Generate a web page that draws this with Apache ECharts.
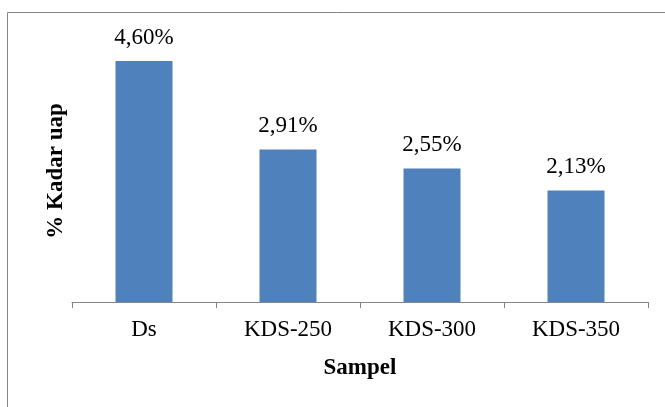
<!DOCTYPE html>
<html><head><meta charset="utf-8">
<script src="https://cdn.jsdelivr.net/npm/echarts@6/dist/echarts.min.js"></script>
<style>html,body{margin:0;padding:0;background:#fff}#c{width:665px;height:407px}</style>
</head><body><div id="c"></div>
<script>
const categories = ["Ds", "KDS-250", "KDS-300", "KDS-350"];
const values = [4.60, 2.91, 2.55, 2.13];
const labels = ["4,60%", "2,91%", "2,55%", "2,13%"];
const xTitle = "Sampel";
const yTitle = "% Kadar uap";

const chart = echarts.init(document.getElementById('c'), null, {renderer: 'canvas'});
const font = '"Liberation Serif", "Times New Roman", serif';
chart.setOption({
  animation: false,
  graphic: [{type: 'rect', shape: {x: 7.5, y: 12.5, width: 700, height: 450}, style: {fill: 'none', stroke: '#868686', lineWidth: 1}, z: -1}],
  grid: {left: 72, right: 17, top: 40, bottom: 105},
  xAxis: {
    type: 'category', data: categories,
    axisLine: {show: true, lineStyle: {color: '#868686', width: 1}},
    axisTick: {show: true, length: 6, interval: 0, lineStyle: {color: '#868686', width: 1}},
    axisLabel: {color: '#000', fontFamily: font, fontSize: 23, margin: 16},
    name: xTitle, nameLocation: 'middle', nameGap: 55,
    nameTextStyle: {color: '#000', fontFamily: font, fontSize: 23, fontWeight: 'bold'}
  },
  yAxis: {
    type: 'value', min: 0, max: 5,
    axisLine: {show: false}, axisTick: {show: false}, axisLabel: {show: false}, splitLine: {show: false},
    name: yTitle, nameLocation: 'middle', nameGap: 4, nameRotate: 90,
    nameTextStyle: {color: '#000', fontFamily: font, fontSize: 23, fontWeight: 'bold'}
  },
  series: [{
    type: 'bar', data: values, barWidth: 57,
    itemStyle: {color: '#4F81BD'},
    label: {show: true, position: 'top', distance: 12, color: '#000', fontFamily: font, fontSize: 23,
      formatter: p => labels[p.dataIndex]}
  }]
});
</script></body></html>
